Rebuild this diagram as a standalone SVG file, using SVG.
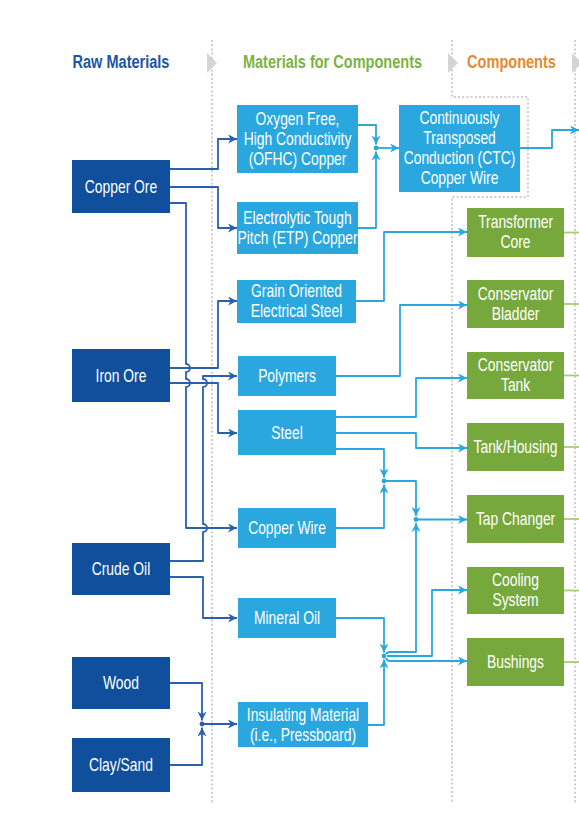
<svg xmlns="http://www.w3.org/2000/svg" width="579" height="835" viewBox="0 0 579 835">
<style>
text{font-family:"Liberation Sans",Arial,sans-serif;text-anchor:middle;transform-box:fill-box;transform-origin:center}
.hdr{font-size:19px;font-weight:bold;transform:scaleX(0.765)}
.lbl{font-size:18px;fill:#ffffff;transform:scaleX(0.77)}
.raw{fill:#0f4f9c}
.mat{fill:#2aa7df}
.cmp{fill:#77a83b}
.dot{fill:none;stroke:#cdcdcd;stroke-width:2;stroke-dasharray:2 2.2}
.cd{fill:none;stroke:#2a5fab;stroke-width:1.8;stroke-linejoin:round}
.cl{fill:none;stroke:#2aa7df;stroke-width:1.8;stroke-linejoin:round}
.cg{fill:none;stroke:#a3cd78;stroke-width:1.8}
.jd{fill:#2a5fab}
.jl{fill:#2aa7df}
.chev{fill:#d2d4d5}
</style>
<defs>
<marker id="ad" viewBox="0 0 10 10" refX="10" refY="5" markerWidth="9" markerHeight="9" markerUnits="userSpaceOnUse" orient="auto"><path d="M0,0 L10,5 L0,10 L3,5 z" fill="#2a5fab"/></marker>
<marker id="al" viewBox="0 0 10 10" refX="10" refY="5" markerWidth="9" markerHeight="9" markerUnits="userSpaceOnUse" orient="auto"><path d="M0,0 L10,5 L0,10 L3,5 z" fill="#2aa7df"/></marker>
</defs>
<rect width="579" height="835" fill="#ffffff"/>
<g id="columns">
<path class="dot" d="M212,40 V803"/>
<path class="dot" d="M452,40 V97 H528 V197 H452 V803"/>
<path class="dot" d="M575,40 V803"/>
<polygon class="chev" points="207,53 217,63 207,73"/>
<polygon class="chev" points="448,53 458,63 448,73"/>
<polygon class="chev" points="572,53 582,63 572,73"/>
<text class="hdr" x="121" y="68.5" fill="#1b56a4">Raw Materials</text>
<text class="hdr" x="332.5" y="68.5" fill="#7ab342">Materials for Components</text>
<text class="hdr" x="511.5" y="68.5" fill="#e58a2e">Components</text>
</g>
<g id="connectors">
<path class="cd" d="M170,169 H218 V139 H237" marker-end="url(#ad)"/>
<path class="cd" d="M170,187 H218 V228 H237" marker-end="url(#ad)"/>
<path class="cd" d="M170,203 H186 V364 a4,4 0 0 1 0,8 V379 a4,4 0 0 1 0,8 V528 H237" marker-end="url(#ad)"/>
<path class="cd" d="M170,368 H218 V301 H237" marker-end="url(#ad)"/>
<path class="cd" d="M170,383 H218 V433 H237" marker-end="url(#ad)"/>
<path class="cd" d="M170,561 H203 V532 a4,4 0 0 0 0,-8 V387 a4,4 0 0 0 0,-8 V376 H237" marker-end="url(#ad)"/>
<path class="cd" d="M170,577 H203 V618 H237" marker-end="url(#ad)"/>
<path class="cd" d="M170,683 H202 V720.5" marker-end="url(#ad)"/>
<path class="cd" d="M170,765 H202 V727.5" marker-end="url(#ad)"/>
<path class="cd" d="M202,724 H237" marker-end="url(#ad)"/>
<circle class="jd" cx="202" cy="724" r="2.4"/>

<path class="cl" d="M358,125 H376 V144.5" marker-end="url(#al)"/>
<path class="cl" d="M358,228 H376 V151.5" marker-end="url(#al)"/>
<path class="cl" d="M376,148 H399" marker-end="url(#al)"/>
<circle class="jl" cx="376" cy="148" r="2.4"/>
<path class="cl" d="M520,148 H552 V130 H579" marker-end="url(#al)"/>
<path class="cl" d="M356,301 H384 V232 H467" marker-end="url(#al)"/>
<path class="cl" d="M336,376 H400 V305 H467" marker-end="url(#al)"/>
<path class="cl" d="M336,417 H416 V378 H467" marker-end="url(#al)"/>
<path class="cl" d="M336,433 H416 V448 H467" marker-end="url(#al)"/>
<path class="cl" d="M336,449 H384 V477.5" marker-end="url(#al)"/>
<path class="cl" d="M336,528 H384 V484.5" marker-end="url(#al)"/>
<circle class="jl" cx="384" cy="481" r="2.4"/>
<path class="cl" d="M384,481 H416 V516" marker-end="url(#al)"/>
<path class="cl" d="M416,519.5 H467" marker-end="url(#al)"/>
<circle class="jl" cx="416" cy="519.5" r="2.4"/>
<path class="cl" d="M336,618 H384 V652.5" marker-end="url(#al)"/>
<path class="cl" d="M368,725 H384 V659.5" marker-end="url(#al)"/>
<circle class="jl" cx="384" cy="656" r="2.4"/>
<path class="cl" d="M386,654 Q387,652 390,652 H416 V523" marker-end="url(#al)"/>
<path class="cl" d="M387,656 H432 V590 H467" marker-end="url(#al)"/>
<path class="cl" d="M386,658 Q387,661 390,661 H467" marker-end="url(#al)"/>

<path class="cg" d="M564,232.5 H579"/>
<path class="cg" d="M564,304 H579"/>
<path class="cg" d="M564,375.5 H579"/>
<path class="cg" d="M564,447 H579"/>
<path class="cg" d="M564,519 H579"/>
<path class="cg" d="M564,590.5 H579"/>
<path class="cg" d="M564,662 H579"/>
</g>

<g id="copper-ore"><rect class="raw" x="72" y="160" width="98" height="53"/><text class="lbl" x="121" y="193">Copper Ore</text></g>
<g id="iron-ore"><rect class="raw" x="72" y="349" width="98" height="53"/><text class="lbl" x="121" y="382">Iron Ore</text></g>
<g id="crude-oil"><rect class="raw" x="72" y="543" width="98" height="52"/><text class="lbl" x="121" y="575.5">Crude Oil</text></g>
<g id="wood"><rect class="raw" x="72" y="657" width="98" height="52"/><text class="lbl" x="121" y="689.5">Wood</text></g>
<g id="clay-sand"><rect class="raw" x="72" y="738" width="98" height="54"/><text class="lbl" x="121" y="771.5">Clay/Sand</text></g>

<g id="ofhc"><rect class="mat" x="237" y="105" width="121" height="68"/><text class="lbl" x="297.5" y="125.5">Oxygen Free,</text><text class="lbl" x="297.5" y="145.5">High Conductivity</text><text class="lbl" x="297.5" y="165.5">(OFHC) Copper</text></g>
<g id="etp"><rect class="mat" x="237" y="202" width="121" height="52"/><text class="lbl" x="297.5" y="224.5">Electrolytic Tough</text><text class="lbl" x="297.5" y="244.5">Pitch (ETP) Copper</text></g>
<g id="grain-steel"><rect class="mat" x="237" y="280" width="119" height="43"/><text class="lbl" x="296.5" y="297.5">Grain Oriented</text><text class="lbl" x="296.5" y="317.5">Electrical Steel</text></g>
<g id="polymers"><rect class="mat" x="238" y="356" width="98" height="40"/><text class="lbl" x="287" y="382.5">Polymers</text></g>
<g id="steel"><rect class="mat" x="238" y="410" width="98" height="45"/><text class="lbl" x="287" y="439">Steel</text></g>
<g id="copper-wire"><rect class="mat" x="238" y="508" width="98" height="40"/><text class="lbl" x="287" y="534.5">Copper Wire</text></g>
<g id="mineral-oil"><rect class="mat" x="238" y="598" width="98" height="40"/><text class="lbl" x="287" y="624.5">Mineral Oil</text></g>
<g id="insulating"><rect class="mat" x="238" y="702" width="130" height="45"/><text class="lbl" x="303" y="721.5">Insulating Material</text><text class="lbl" x="303" y="741.5">(i.e., Pressboard)</text></g>
<g id="ctc"><rect class="mat" x="399" y="105" width="121" height="87"/><text class="lbl" x="459.5" y="124.5">Continuously</text><text class="lbl" x="459.5" y="144.5">Transposed</text><text class="lbl" x="459.5" y="164.5">Conduction (CTC)</text><text class="lbl" x="459.5" y="184.5">Copper Wire</text></g>

<g id="transformer-core"><rect class="cmp" x="467" y="208" width="97" height="49"/><text class="lbl" x="515.5" y="228.5">Transformer</text><text class="lbl" x="515.5" y="248.5">Core</text></g>
<g id="conservator-bladder"><rect class="cmp" x="467" y="280" width="97" height="48"/><text class="lbl" x="515.5" y="300.5">Conservator</text><text class="lbl" x="515.5" y="320.5">Bladder</text></g>
<g id="conservator-tank"><rect class="cmp" x="467" y="352" width="97" height="47"/><text class="lbl" x="515.5" y="371.5">Conservator</text><text class="lbl" x="515.5" y="391.5">Tank</text></g>
<g id="tank-housing"><rect class="cmp" x="467" y="423" width="97" height="48"/><text class="lbl" x="515.5" y="453.5">Tank/Housing</text></g>
<g id="tap-changer"><rect class="cmp" x="467" y="495" width="97" height="48"/><text class="lbl" x="515.5" y="525.5">Tap Changer</text></g>
<g id="cooling-system"><rect class="cmp" x="467" y="567" width="97" height="47"/><text class="lbl" x="515.5" y="586.5">Cooling</text><text class="lbl" x="515.5" y="606.5">System</text></g>
<g id="bushings"><rect class="cmp" x="467" y="638" width="97" height="48"/><text class="lbl" x="515.5" y="668.5">Bushings</text></g>
</svg>
